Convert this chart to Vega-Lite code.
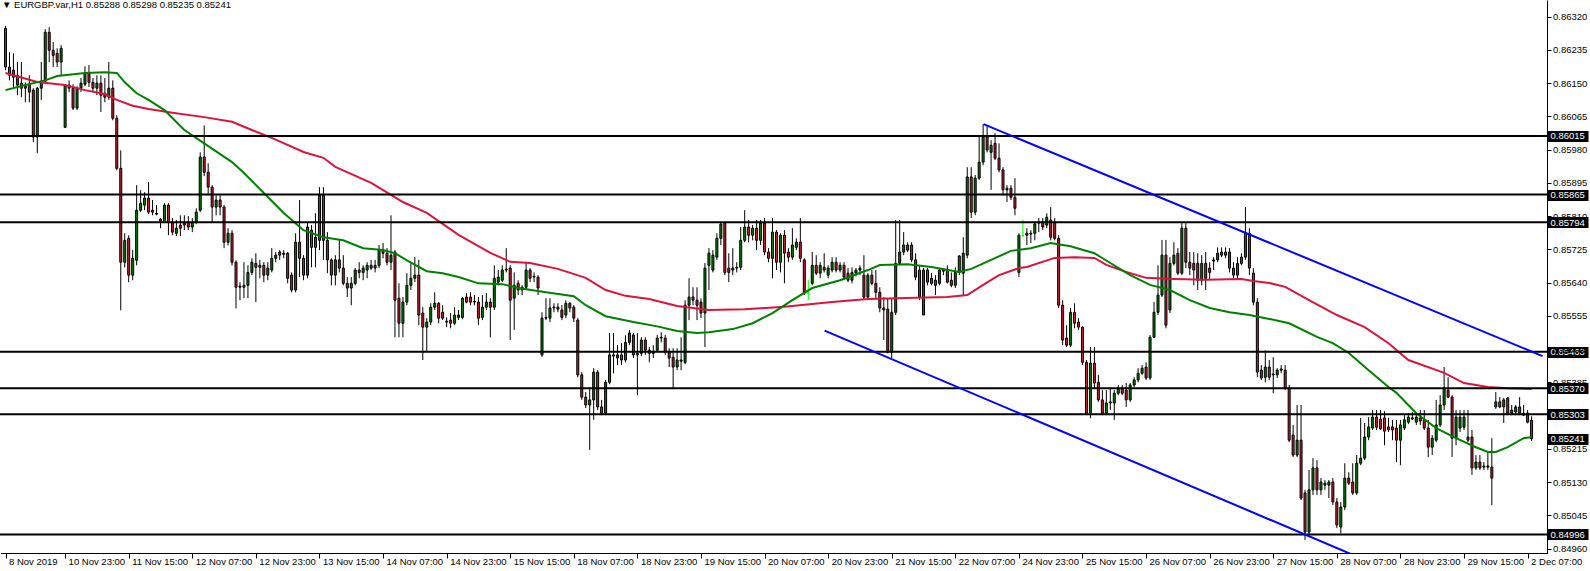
{
"$schema":"https://vega.github.io/schema/vega-lite/v6.json",
"width":1547,"height":553,
"autosize":{"type":"none"},
"padding":{"left":0,"top":0,"right":43,"bottom":18},
"background":"white",
"config":{"view":{"stroke":null},"font":"Liberation Sans"},
"title":{"text":"▼  EURGBP.var,H1  0.85288 0.85298 0.85235 0.85241","anchor":"start","frame":"group","orient":"top","offset":-12,"baseline":"bottom","font":"Liberation Sans","fontSize":9.5,"fontWeight":"normal","color":"black","dx":2,"dy":7},
"datasets":{
"candles":[
{"i":0,"o":0.86290,"h":0.86296,"l":0.86183,"c":0.86191},
{"i":1,"o":0.86191,"h":0.86229,"l":0.86157,"c":0.86170},
{"i":2,"o":0.86183,"h":0.86226,"l":0.86140,"c":0.86165},
{"i":3,"o":0.86170,"h":0.86204,"l":0.86119,"c":0.86145},
{"i":4,"o":0.86150,"h":0.86204,"l":0.86114,"c":0.86137},
{"i":5,"o":0.86142,"h":0.86152,"l":0.86101,"c":0.86137},
{"i":6,"o":0.86147,"h":0.86170,"l":0.86101,"c":0.86127},
{"i":7,"o":0.86132,"h":0.86137,"l":0.85999,"c":0.86012},
{"i":8,"o":0.86012,"h":0.86140,"l":0.85971,"c":0.86137},
{"i":9,"o":0.86137,"h":0.86204,"l":0.86107,"c":0.86155},
{"i":10,"o":0.86155,"h":0.86288,"l":0.86147,"c":0.86280},
{"i":11,"o":0.86280,"h":0.86293,"l":0.86204,"c":0.86234},
{"i":12,"o":0.86234,"h":0.86255,"l":0.86191,"c":0.86221},
{"i":13,"o":0.86226,"h":0.86239,"l":0.86191,"c":0.86204},
{"i":14,"o":0.86204,"h":0.86247,"l":0.86170,"c":0.86239},
{"i":15,"o":0.86037,"h":0.86147,"l":0.86035,"c":0.86145},
{"i":16,"o":0.86145,"h":0.86157,"l":0.86127,"c":0.86137},
{"i":17,"o":0.86137,"h":0.86147,"l":0.86081,"c":0.86086},
{"i":18,"o":0.86086,"h":0.86142,"l":0.86081,"c":0.86137},
{"i":19,"o":0.86137,"h":0.86163,"l":0.86127,"c":0.86150},
{"i":20,"o":0.86147,"h":0.86193,"l":0.86142,"c":0.86175},
{"i":21,"o":0.86175,"h":0.86196,"l":0.86140,"c":0.86152},
{"i":22,"o":0.86152,"h":0.86163,"l":0.86127,"c":0.86137},
{"i":23,"o":0.86137,"h":0.86170,"l":0.86119,"c":0.86150},
{"i":24,"o":0.86150,"h":0.86170,"l":0.86076,"c":0.86119},
{"i":25,"o":0.86124,"h":0.86163,"l":0.86101,"c":0.86114},
{"i":26,"o":0.86114,"h":0.86204,"l":0.86107,"c":0.86137},
{"i":27,"o":0.86137,"h":0.86157,"l":0.86055,"c":0.86060},
{"i":28,"o":0.86060,"h":0.86068,"l":0.85927,"c":0.85932},
{"i":29,"o":0.85932,"h":0.85978,"l":0.85569,"c":0.85692},
{"i":30,"o":0.85692,"h":0.85766,"l":0.85679,"c":0.85748},
{"i":31,"o":0.85753,"h":0.85761,"l":0.85641,"c":0.85659},
{"i":32,"o":0.85659,"h":0.85723,"l":0.85646,"c":0.85702},
{"i":33,"o":0.85697,"h":0.85889,"l":0.85684,"c":0.85825},
{"i":34,"o":0.85825,"h":0.85876,"l":0.85820,"c":0.85843},
{"i":35,"o":0.85838,"h":0.85871,"l":0.85825,"c":0.85856},
{"i":36,"o":0.85856,"h":0.85897,"l":0.85815,"c":0.85820},
{"i":37,"o":0.85825,"h":0.85851,"l":0.85812,"c":0.85820},
{"i":38,"o":0.85817,"h":0.85838,"l":0.85812,"c":0.85815},
{"i":39,"o":0.85802,"h":0.85805,"l":0.85779,"c":0.85797},
{"i":40,"o":0.85794,"h":0.85843,"l":0.85792,"c":0.85838},
{"i":41,"o":0.85838,"h":0.85843,"l":0.85761,"c":0.85794},
{"i":42,"o":0.85794,"h":0.85805,"l":0.85761,"c":0.85769},
{"i":43,"o":0.85766,"h":0.85800,"l":0.85759,"c":0.85779},
{"i":44,"o":0.85787,"h":0.85812,"l":0.85759,"c":0.85779},
{"i":45,"o":0.85792,"h":0.85812,"l":0.85774,"c":0.85787},
{"i":46,"o":0.85794,"h":0.85810,"l":0.85774,"c":0.85782},
{"i":47,"o":0.85782,"h":0.85805,"l":0.85769,"c":0.85794},
{"i":48,"o":0.85794,"h":0.85830,"l":0.85789,"c":0.85820},
{"i":49,"o":0.85825,"h":0.85973,"l":0.85820,"c":0.85961},
{"i":50,"o":0.85961,"h":0.86042,"l":0.85912,"c":0.85922},
{"i":51,"o":0.85922,"h":0.85945,"l":0.85863,"c":0.85884},
{"i":52,"o":0.85884,"h":0.85889,"l":0.85794,"c":0.85833},
{"i":53,"o":0.85833,"h":0.85863,"l":0.85812,"c":0.85851},
{"i":54,"o":0.85851,"h":0.85863,"l":0.85812,"c":0.85833},
{"i":55,"o":0.85833,"h":0.85838,"l":0.85728,"c":0.85743},
{"i":56,"o":0.85743,"h":0.85779,"l":0.85735,"c":0.85766},
{"i":57,"o":0.85766,"h":0.85774,"l":0.85684,"c":0.85692},
{"i":58,"o":0.85692,"h":0.85697,"l":0.85574,"c":0.85628},
{"i":59,"o":0.85631,"h":0.85641,"l":0.85595,"c":0.85628},
{"i":60,"o":0.85628,"h":0.85692,"l":0.85600,"c":0.85633},
{"i":61,"o":0.85633,"h":0.85684,"l":0.85600,"c":0.85666},
{"i":62,"o":0.85666,"h":0.85702,"l":0.85659,"c":0.85692},
{"i":63,"o":0.85689,"h":0.85715,"l":0.85590,"c":0.85679},
{"i":64,"o":0.85679,"h":0.85698,"l":0.85651,"c":0.85684},
{"i":65,"o":0.85684,"h":0.85692,"l":0.85641,"c":0.85659},
{"i":66,"o":0.85659,"h":0.85692,"l":0.85646,"c":0.85677},
{"i":67,"o":0.85672,"h":0.85728,"l":0.85666,"c":0.85702},
{"i":68,"o":0.85702,"h":0.85718,"l":0.85692,"c":0.85710},
{"i":69,"o":0.85718,"h":0.85723,"l":0.85698,"c":0.85710},
{"i":70,"o":0.85715,"h":0.85723,"l":0.85702,"c":0.85712},
{"i":71,"o":0.85715,"h":0.85718,"l":0.85638,"c":0.85651},
{"i":72,"o":0.85659,"h":0.85666,"l":0.85615,"c":0.85621},
{"i":73,"o":0.85621,"h":0.85766,"l":0.85615,"c":0.85743},
{"i":74,"o":0.85743,"h":0.85851,"l":0.85654,"c":0.85702},
{"i":75,"o":0.85702,"h":0.85710,"l":0.85646,"c":0.85659},
{"i":76,"o":0.85659,"h":0.85794,"l":0.85651,"c":0.85782},
{"i":77,"o":0.85774,"h":0.85787,"l":0.85679,"c":0.85730},
{"i":78,"o":0.85730,"h":0.85817,"l":0.85679,"c":0.85756},
{"i":79,"o":0.85748,"h":0.85884,"l":0.85723,"c":0.85863},
{"i":80,"o":0.85863,"h":0.85884,"l":0.85698,"c":0.85748},
{"i":81,"o":0.85748,"h":0.85769,"l":0.85664,"c":0.85698},
{"i":82,"o":0.85698,"h":0.85702,"l":0.85633,"c":0.85659},
{"i":83,"o":0.85659,"h":0.85710,"l":0.85633,"c":0.85698},
{"i":84,"o":0.85698,"h":0.85749,"l":0.85666,"c":0.85677},
{"i":85,"o":0.85677,"h":0.85710,"l":0.85633,"c":0.85638},
{"i":86,"o":0.85638,"h":0.85654,"l":0.85603,"c":0.85626},
{"i":87,"o":0.85626,"h":0.85654,"l":0.85582,"c":0.85638},
{"i":88,"o":0.85638,"h":0.85677,"l":0.85633,"c":0.85672},
{"i":89,"o":0.85672,"h":0.85692,"l":0.85651,"c":0.85666},
{"i":90,"o":0.85666,"h":0.85684,"l":0.85646,"c":0.85677},
{"i":91,"o":0.85672,"h":0.85692,"l":0.85651,"c":0.85684},
{"i":92,"o":0.85677,"h":0.85698,"l":0.85672,"c":0.85684},
{"i":93,"o":0.85684,"h":0.85698,"l":0.85666,"c":0.85677},
{"i":94,"o":0.85684,"h":0.85736,"l":0.85677,"c":0.85723},
{"i":95,"o":0.85723,"h":0.85741,"l":0.85702,"c":0.85715},
{"i":96,"o":0.85715,"h":0.85728,"l":0.85684,"c":0.85692},
{"i":97,"o":0.85692,"h":0.85812,"l":0.85672,"c":0.85710},
{"i":98,"o":0.85718,"h":0.85723,"l":0.85500,"c":0.85595},
{"i":99,"o":0.85600,"h":0.85638,"l":0.85500,"c":0.85536},
{"i":100,"o":0.85536,"h":0.85603,"l":0.85500,"c":0.85590},
{"i":101,"o":0.85590,"h":0.85664,"l":0.85582,"c":0.85633},
{"i":102,"o":0.85633,"h":0.85689,"l":0.85621,"c":0.85651},
{"i":103,"o":0.85651,"h":0.85705,"l":0.85641,"c":0.85659},
{"i":104,"o":0.85659,"h":0.85698,"l":0.85531,"c":0.85557},
{"i":105,"o":0.85562,"h":0.85577,"l":0.85442,"c":0.85526},
{"i":106,"o":0.85526,"h":0.85549,"l":0.85462,"c":0.85539},
{"i":107,"o":0.85539,"h":0.85587,"l":0.85531,"c":0.85577},
{"i":108,"o":0.85577,"h":0.85615,"l":0.85570,"c":0.85587},
{"i":109,"o":0.85587,"h":0.85590,"l":0.85536,"c":0.85549},
{"i":110,"o":0.85564,"h":0.85582,"l":0.85544,"c":0.85549},
{"i":111,"o":0.85539,"h":0.85551,"l":0.85526,"c":0.85541},
{"i":112,"o":0.85544,"h":0.85562,"l":0.85523,"c":0.85536},
{"i":113,"o":0.85536,"h":0.85577,"l":0.85531,"c":0.85557},
{"i":114,"o":0.85551,"h":0.85570,"l":0.85544,"c":0.85557},
{"i":115,"o":0.85551,"h":0.85603,"l":0.85546,"c":0.85600},
{"i":116,"o":0.85603,"h":0.85613,"l":0.85587,"c":0.85590},
{"i":117,"o":0.85603,"h":0.85615,"l":0.85582,"c":0.85590},
{"i":118,"o":0.85590,"h":0.85608,"l":0.85582,"c":0.85592},
{"i":119,"o":0.85590,"h":0.85603,"l":0.85531,"c":0.85549},
{"i":120,"o":0.85551,"h":0.85608,"l":0.85544,"c":0.85577},
{"i":121,"o":0.85577,"h":0.85613,"l":0.85570,"c":0.85590},
{"i":122,"o":0.85590,"h":0.85600,"l":0.85500,"c":0.85577},
{"i":123,"o":0.85577,"h":0.85684,"l":0.85570,"c":0.85651},
{"i":124,"o":0.85641,"h":0.85672,"l":0.85633,"c":0.85654},
{"i":125,"o":0.85646,"h":0.85684,"l":0.85641,"c":0.85672},
{"i":126,"o":0.85672,"h":0.85728,"l":0.85666,"c":0.85674},
{"i":127,"o":0.85677,"h":0.85684,"l":0.85493,"c":0.85595},
{"i":128,"o":0.85600,"h":0.85666,"l":0.85519,"c":0.85633},
{"i":129,"o":0.85638,"h":0.85646,"l":0.85608,"c":0.85621},
{"i":130,"o":0.85621,"h":0.85633,"l":0.85608,"c":0.85628},
{"i":131,"o":0.85628,"h":0.85692,"l":0.85621,"c":0.85672},
{"i":132,"o":0.85672,"h":0.85677,"l":0.85641,"c":0.85651},
{"i":133,"o":0.85654,"h":0.85666,"l":0.85641,"c":0.85656},
{"i":134,"o":0.85654,"h":0.85659,"l":0.85608,"c":0.85626},
{"i":135,"o":0.85455,"h":0.85564,"l":0.85450,"c":0.85549},
{"i":136,"o":0.85549,"h":0.85600,"l":0.85544,"c":0.85551},
{"i":137,"o":0.85549,"h":0.85600,"l":0.85539,"c":0.85575},
{"i":138,"o":0.85575,"h":0.85587,"l":0.85564,"c":0.85577},
{"i":139,"o":0.85572,"h":0.85587,"l":0.85564,"c":0.85577},
{"i":140,"o":0.85570,"h":0.85582,"l":0.85544,"c":0.85551},
{"i":141,"o":0.85557,"h":0.85595,"l":0.85549,"c":0.85587},
{"i":142,"o":0.85587,"h":0.85590,"l":0.85564,"c":0.85575},
{"i":143,"o":0.85577,"h":0.85582,"l":0.85539,"c":0.85549},
{"i":144,"o":0.85544,"h":0.85549,"l":0.85398,"c":0.85404},
{"i":145,"o":0.85404,"h":0.85411,"l":0.85340,"c":0.85347},
{"i":146,"o":0.85347,"h":0.85360,"l":0.85319,"c":0.85327},
{"i":147,"o":0.85327,"h":0.85373,"l":0.85212,"c":0.85340},
{"i":148,"o":0.85340,"h":0.85421,"l":0.85289,"c":0.85411},
{"i":149,"o":0.85411,"h":0.85416,"l":0.85314,"c":0.85322},
{"i":150,"o":0.85322,"h":0.85340,"l":0.85301,"c":0.85306},
{"i":151,"o":0.85306,"h":0.85391,"l":0.85301,"c":0.85385},
{"i":152,"o":0.85385,"h":0.85511,"l":0.85380,"c":0.85455},
{"i":153,"o":0.85455,"h":0.85511,"l":0.85408,"c":0.85452},
{"i":154,"o":0.85455,"h":0.85480,"l":0.85429,"c":0.85447},
{"i":155,"o":0.85455,"h":0.85485,"l":0.85429,"c":0.85442},
{"i":156,"o":0.85442,"h":0.85505,"l":0.85436,"c":0.85487},
{"i":157,"o":0.85487,"h":0.85519,"l":0.85480,"c":0.85511},
{"i":158,"o":0.85506,"h":0.85511,"l":0.85447,"c":0.85455},
{"i":159,"o":0.85459,"h":0.85511,"l":0.85352,"c":0.85455},
{"i":160,"o":0.85459,"h":0.85500,"l":0.85452,"c":0.85493},
{"i":161,"o":0.85493,"h":0.85500,"l":0.85455,"c":0.85467},
{"i":162,"o":0.85467,"h":0.85475,"l":0.85436,"c":0.85459},
{"i":163,"o":0.85459,"h":0.85480,"l":0.85447,"c":0.85462},
{"i":164,"o":0.85467,"h":0.85506,"l":0.85462,"c":0.85498},
{"i":165,"o":0.85498,"h":0.85513,"l":0.85487,"c":0.85500},
{"i":166,"o":0.85498,"h":0.85506,"l":0.85455,"c":0.85462},
{"i":167,"o":0.85462,"h":0.85472,"l":0.85424,"c":0.85447},
{"i":168,"o":0.85449,"h":0.85472,"l":0.85370,"c":0.85424},
{"i":169,"o":0.85424,"h":0.85472,"l":0.85416,"c":0.85442},
{"i":170,"o":0.85439,"h":0.85500,"l":0.85416,"c":0.85442},
{"i":171,"o":0.85436,"h":0.85595,"l":0.85431,"c":0.85582},
{"i":172,"o":0.85582,"h":0.85651,"l":0.85544,"c":0.85603},
{"i":173,"o":0.85603,"h":0.85628,"l":0.85582,"c":0.85595},
{"i":174,"o":0.85595,"h":0.85628,"l":0.85544,"c":0.85582},
{"i":175,"o":0.85590,"h":0.85600,"l":0.85549,"c":0.85562},
{"i":176,"o":0.85562,"h":0.85690,"l":0.85475,"c":0.85677},
{"i":177,"o":0.85684,"h":0.85728,"l":0.85621,"c":0.85715},
{"i":178,"o":0.85672,"h":0.85723,"l":0.85666,"c":0.85710},
{"i":179,"o":0.85705,"h":0.85766,"l":0.85698,"c":0.85753},
{"i":180,"o":0.85753,"h":0.85792,"l":0.85736,"c":0.85790},
{"i":181,"o":0.85792,"h":0.85794,"l":0.85659,"c":0.85666},
{"i":182,"o":0.85677,"h":0.85715,"l":0.85641,"c":0.85666},
{"i":183,"o":0.85672,"h":0.85728,"l":0.85659,"c":0.85677},
{"i":184,"o":0.85677,"h":0.85692,"l":0.85666,"c":0.85679},
{"i":185,"o":0.85679,"h":0.85782,"l":0.85672,"c":0.85748},
{"i":186,"o":0.85748,"h":0.85825,"l":0.85743,"c":0.85782},
{"i":187,"o":0.85782,"h":0.85800,"l":0.85743,"c":0.85761},
{"i":188,"o":0.85761,"h":0.85787,"l":0.85748,"c":0.85779},
{"i":189,"o":0.85779,"h":0.85800,"l":0.85723,"c":0.85748},
{"i":190,"o":0.85748,"h":0.85800,"l":0.85736,"c":0.85792},
{"i":191,"o":0.85792,"h":0.85805,"l":0.85710,"c":0.85718},
{"i":192,"o":0.85718,"h":0.85728,"l":0.85692,"c":0.85702},
{"i":193,"o":0.85702,"h":0.85805,"l":0.85651,"c":0.85769},
{"i":194,"o":0.85769,"h":0.85774,"l":0.85672,"c":0.85692},
{"i":195,"o":0.85692,"h":0.85766,"l":0.85666,"c":0.85761},
{"i":196,"o":0.85761,"h":0.85774,"l":0.85638,"c":0.85715},
{"i":197,"o":0.85718,"h":0.85728,"l":0.85692,"c":0.85705},
{"i":198,"o":0.85705,"h":0.85779,"l":0.85698,"c":0.85736},
{"i":199,"o":0.85730,"h":0.85753,"l":0.85723,"c":0.85743},
{"i":200,"o":0.85743,"h":0.85805,"l":0.85692,"c":0.85702},
{"i":201,"o":0.85698,"h":0.85702,"l":0.85608,"c":0.85613},
{"i":202,"o":0.85613,"h":0.85646,"l":0.85595,"c":0.85613},
{"i":203,"o":0.85638,"h":0.85718,"l":0.85633,"c":0.85684},
{"i":204,"o":0.85684,"h":0.85710,"l":0.85659,"c":0.85664},
{"i":205,"o":0.85664,"h":0.85692,"l":0.85651,"c":0.85684},
{"i":206,"o":0.85679,"h":0.85715,"l":0.85666,"c":0.85672},
{"i":207,"o":0.85659,"h":0.85684,"l":0.85651,"c":0.85677},
{"i":208,"o":0.85672,"h":0.85705,"l":0.85666,"c":0.85692},
{"i":209,"o":0.85692,"h":0.85705,"l":0.85666,"c":0.85672},
{"i":210,"o":0.85672,"h":0.85692,"l":0.85666,"c":0.85684},
{"i":211,"o":0.85684,"h":0.85692,"l":0.85646,"c":0.85654},
{"i":212,"o":0.85664,"h":0.85677,"l":0.85641,"c":0.85646},
{"i":213,"o":0.85646,"h":0.85679,"l":0.85638,"c":0.85666},
{"i":214,"o":0.85664,"h":0.85677,"l":0.85656,"c":0.85672},
{"i":215,"o":0.85672,"h":0.85684,"l":0.85659,"c":0.85677},
{"i":216,"o":0.85659,"h":0.85710,"l":0.85595,"c":0.85603},
{"i":217,"o":0.85603,"h":0.85664,"l":0.85595,"c":0.85659},
{"i":218,"o":0.85659,"h":0.85672,"l":0.85633,"c":0.85638},
{"i":219,"o":0.85638,"h":0.85672,"l":0.85600,"c":0.85615},
{"i":220,"o":0.85615,"h":0.85628,"l":0.85564,"c":0.85575},
{"i":221,"o":0.85575,"h":0.85603,"l":0.85493,"c":0.85570},
{"i":222,"o":0.85572,"h":0.85600,"l":0.85459,"c":0.85462},
{"i":223,"o":0.85462,"h":0.85600,"l":0.85447,"c":0.85564},
{"i":224,"o":0.85564,"h":0.85800,"l":0.85557,"c":0.85689},
{"i":225,"o":0.85689,"h":0.85800,"l":0.85684,"c":0.85718},
{"i":226,"o":0.85718,"h":0.85769,"l":0.85710,"c":0.85736},
{"i":227,"o":0.85736,"h":0.85743,"l":0.85718,"c":0.85723},
{"i":228,"o":0.85736,"h":0.85743,"l":0.85692,"c":0.85698},
{"i":229,"o":0.85698,"h":0.85715,"l":0.85646,"c":0.85654},
{"i":230,"o":0.85672,"h":0.85684,"l":0.85595,"c":0.85603},
{"i":231,"o":0.85557,"h":0.85677,"l":0.85557,"c":0.85672},
{"i":232,"o":0.85672,"h":0.85677,"l":0.85633,"c":0.85641},
{"i":233,"o":0.85651,"h":0.85664,"l":0.85633,"c":0.85638},
{"i":234,"o":0.85646,"h":0.85659,"l":0.85608,"c":0.85633},
{"i":235,"o":0.85638,"h":0.85677,"l":0.85633,"c":0.85672},
{"i":236,"o":0.85672,"h":0.85677,"l":0.85659,"c":0.85669},
{"i":237,"o":0.85672,"h":0.85684,"l":0.85638,"c":0.85641},
{"i":238,"o":0.85646,"h":0.85666,"l":0.85628,"c":0.85633},
{"i":239,"o":0.85633,"h":0.85679,"l":0.85626,"c":0.85666},
{"i":240,"o":0.85666,"h":0.85710,"l":0.85659,"c":0.85708},
{"i":241,"o":0.85664,"h":0.85756,"l":0.85608,"c":0.85715},
{"i":242,"o":0.85710,"h":0.85935,"l":0.85702,"c":0.85910},
{"i":243,"o":0.85910,"h":0.85935,"l":0.85805,"c":0.85820},
{"i":244,"o":0.85820,"h":0.85915,"l":0.85812,"c":0.85907},
{"i":245,"o":0.85907,"h":0.86012,"l":0.85902,"c":0.85948},
{"i":246,"o":0.85948,"h":0.86045,"l":0.85940,"c":0.86012},
{"i":247,"o":0.86012,"h":0.86042,"l":0.85973,"c":0.85979},
{"i":248,"o":0.85973,"h":0.86004,"l":0.85877,"c":0.85991},
{"i":249,"o":0.85996,"h":0.86022,"l":0.85953,"c":0.85958},
{"i":250,"o":0.85958,"h":0.85996,"l":0.85922,"c":0.85928},
{"i":251,"o":0.85928,"h":0.85935,"l":0.85863,"c":0.85877},
{"i":252,"o":0.85877,"h":0.85889,"l":0.85846,"c":0.85881},
{"i":253,"o":0.85881,"h":0.85889,"l":0.85851,"c":0.85858},
{"i":254,"o":0.85858,"h":0.85907,"l":0.85812,"c":0.85830},
{"i":255,"o":0.85666,"h":0.85766,"l":0.85654,"c":0.85761},
{"i":256,"o":0.85761,"h":0.85800,"l":0.85756,"c":0.85761},
{"i":257,"o":0.85761,"h":0.85779,"l":0.85736,"c":0.85766},
{"i":258,"o":0.85766,"h":0.85774,"l":0.85741,"c":0.85764},
{"i":259,"o":0.85766,"h":0.85792,"l":0.85748,"c":0.85790},
{"i":260,"o":0.85792,"h":0.85805,"l":0.85769,"c":0.85794},
{"i":261,"o":0.85794,"h":0.85805,"l":0.85774,"c":0.85782},
{"i":262,"o":0.85787,"h":0.85817,"l":0.85779,"c":0.85807},
{"i":263,"o":0.85800,"h":0.85833,"l":0.85748,"c":0.85756},
{"i":264,"o":0.85794,"h":0.85805,"l":0.85748,"c":0.85753},
{"i":265,"o":0.85753,"h":0.85761,"l":0.85575,"c":0.85582},
{"i":266,"o":0.85582,"h":0.85595,"l":0.85480,"c":0.85493},
{"i":267,"o":0.85498,"h":0.85531,"l":0.85475,"c":0.85480},
{"i":268,"o":0.85480,"h":0.85575,"l":0.85475,"c":0.85564},
{"i":269,"o":0.85564,"h":0.85587,"l":0.85523,"c":0.85536},
{"i":270,"o":0.85539,"h":0.85549,"l":0.85519,"c":0.85526},
{"i":271,"o":0.85526,"h":0.85528,"l":0.85429,"c":0.85436},
{"i":272,"o":0.85436,"h":0.85442,"l":0.85301,"c":0.85306},
{"i":273,"o":0.85306,"h":0.85475,"l":0.85293,"c":0.85434},
{"i":274,"o":0.85434,"h":0.85475,"l":0.85370,"c":0.85383},
{"i":275,"o":0.85385,"h":0.85404,"l":0.85335,"c":0.85340},
{"i":276,"o":0.85340,"h":0.85365,"l":0.85301,"c":0.85306},
{"i":277,"o":0.85306,"h":0.85365,"l":0.85301,"c":0.85332},
{"i":278,"o":0.85332,"h":0.85370,"l":0.85314,"c":0.85335},
{"i":279,"o":0.85332,"h":0.85365,"l":0.85289,"c":0.85357},
{"i":280,"o":0.85357,"h":0.85378,"l":0.85352,"c":0.85370},
{"i":281,"o":0.85370,"h":0.85378,"l":0.85352,"c":0.85357},
{"i":282,"o":0.85365,"h":0.85383,"l":0.85322,"c":0.85340},
{"i":283,"o":0.85340,"h":0.85383,"l":0.85335,"c":0.85378},
{"i":284,"o":0.85378,"h":0.85398,"l":0.85373,"c":0.85391},
{"i":285,"o":0.85391,"h":0.85421,"l":0.85385,"c":0.85408},
{"i":286,"o":0.85408,"h":0.85429,"l":0.85404,"c":0.85421},
{"i":287,"o":0.85424,"h":0.85436,"l":0.85391,"c":0.85396},
{"i":288,"o":0.85396,"h":0.85506,"l":0.85391,"c":0.85500},
{"i":289,"o":0.85500,"h":0.85590,"l":0.85498,"c":0.85564},
{"i":290,"o":0.85564,"h":0.85684,"l":0.85557,"c":0.85608},
{"i":291,"o":0.85608,"h":0.85749,"l":0.85603,"c":0.85710},
{"i":292,"o":0.85710,"h":0.85749,"l":0.85523,"c":0.85531},
{"i":293,"o":0.85570,"h":0.85705,"l":0.85562,"c":0.85689},
{"i":294,"o":0.85689,"h":0.85743,"l":0.85684,"c":0.85710},
{"i":295,"o":0.85715,"h":0.85728,"l":0.85659,"c":0.85664},
{"i":296,"o":0.85664,"h":0.85792,"l":0.85659,"c":0.85779},
{"i":297,"o":0.85779,"h":0.85792,"l":0.85677,"c":0.85692},
{"i":298,"o":0.85692,"h":0.85718,"l":0.85659,"c":0.85677},
{"i":299,"o":0.85689,"h":0.85718,"l":0.85633,"c":0.85672},
{"i":300,"o":0.85689,"h":0.85715,"l":0.85621,"c":0.85646},
{"i":301,"o":0.85646,"h":0.85710,"l":0.85633,"c":0.85689},
{"i":302,"o":0.85689,"h":0.85718,"l":0.85621,"c":0.85651},
{"i":303,"o":0.85677,"h":0.85692,"l":0.85646,"c":0.85666},
{"i":304,"o":0.85698,"h":0.85705,"l":0.85672,"c":0.85695},
{"i":305,"o":0.85698,"h":0.85730,"l":0.85692,"c":0.85715},
{"i":306,"o":0.85718,"h":0.85730,"l":0.85705,"c":0.85710},
{"i":307,"o":0.85710,"h":0.85730,"l":0.85702,"c":0.85718},
{"i":308,"o":0.85718,"h":0.85728,"l":0.85666,"c":0.85677},
{"i":309,"o":0.85677,"h":0.85692,"l":0.85651,"c":0.85659},
{"i":310,"o":0.85659,"h":0.85705,"l":0.85651,"c":0.85689},
{"i":311,"o":0.85689,"h":0.85715,"l":0.85684,"c":0.85705},
{"i":312,"o":0.85705,"h":0.85833,"l":0.85698,"c":0.85766},
{"i":313,"o":0.85766,"h":0.85779,"l":0.85659,"c":0.85677},
{"i":314,"o":0.85664,"h":0.85677,"l":0.85582,"c":0.85590},
{"i":315,"o":0.85590,"h":0.85600,"l":0.85398,"c":0.85411},
{"i":316,"o":0.85416,"h":0.85429,"l":0.85391,"c":0.85396},
{"i":317,"o":0.85398,"h":0.85467,"l":0.85385,"c":0.85424},
{"i":318,"o":0.85424,"h":0.85442,"l":0.85391,"c":0.85398},
{"i":319,"o":0.85406,"h":0.85449,"l":0.85357,"c":0.85404},
{"i":320,"o":0.85404,"h":0.85421,"l":0.85396,"c":0.85416},
{"i":321,"o":0.85416,"h":0.85429,"l":0.85408,"c":0.85419},
{"i":322,"o":0.85416,"h":0.85429,"l":0.85365,"c":0.85370},
{"i":323,"o":0.85370,"h":0.85378,"l":0.85232,"c":0.85237},
{"i":324,"o":0.85250,"h":0.85276,"l":0.85194,"c":0.85199},
{"i":325,"o":0.85199,"h":0.85327,"l":0.85194,"c":0.85237},
{"i":326,"o":0.85237,"h":0.85327,"l":0.85084,"c":0.85089},
{"i":327,"o":0.85102,"h":0.85110,"l":0.84982,"c":0.85002},
{"i":328,"o":0.85002,"h":0.85161,"l":0.84994,"c":0.85110},
{"i":329,"o":0.85110,"h":0.85191,"l":0.85097,"c":0.85166},
{"i":330,"o":0.85166,"h":0.85186,"l":0.85097,"c":0.85110},
{"i":331,"o":0.85110,"h":0.85140,"l":0.85097,"c":0.85130},
{"i":332,"o":0.85122,"h":0.85135,"l":0.85110,"c":0.85127},
{"i":333,"o":0.85122,"h":0.85135,"l":0.85089,"c":0.85130},
{"i":334,"o":0.85130,"h":0.85140,"l":0.85071,"c":0.85079},
{"i":335,"o":0.85079,"h":0.85089,"l":0.85012,"c":0.85020},
{"i":336,"o":0.85015,"h":0.85079,"l":0.84999,"c":0.85066},
{"i":337,"o":0.85066,"h":0.85178,"l":0.85058,"c":0.85140},
{"i":338,"o":0.85140,"h":0.85155,"l":0.85122,"c":0.85127},
{"i":339,"o":0.85130,"h":0.85178,"l":0.85097,"c":0.85102},
{"i":340,"o":0.85102,"h":0.85199,"l":0.85097,"c":0.85178},
{"i":341,"o":0.85178,"h":0.85294,"l":0.85173,"c":0.85191},
{"i":342,"o":0.85191,"h":0.85281,"l":0.85186,"c":0.85245},
{"i":343,"o":0.85245,"h":0.85296,"l":0.85237,"c":0.85271},
{"i":344,"o":0.85268,"h":0.85314,"l":0.85263,"c":0.85296},
{"i":345,"o":0.85296,"h":0.85314,"l":0.85263,"c":0.85270},
{"i":346,"o":0.85291,"h":0.85314,"l":0.85263,"c":0.85266},
{"i":347,"o":0.85294,"h":0.85311,"l":0.85224,"c":0.85260},
{"i":348,"o":0.85271,"h":0.85294,"l":0.85258,"c":0.85263},
{"i":349,"o":0.85271,"h":0.85289,"l":0.85237,"c":0.85263},
{"i":350,"o":0.85268,"h":0.85289,"l":0.85181,"c":0.85237},
{"i":351,"o":0.85237,"h":0.85289,"l":0.85173,"c":0.85276},
{"i":352,"o":0.85268,"h":0.85301,"l":0.85263,"c":0.85289},
{"i":353,"o":0.85283,"h":0.85306,"l":0.85278,"c":0.85296},
{"i":354,"o":0.85294,"h":0.85309,"l":0.85289,"c":0.85291},
{"i":355,"o":0.85283,"h":0.85301,"l":0.85276,"c":0.85296},
{"i":356,"o":0.85294,"h":0.85314,"l":0.85276,"c":0.85286},
{"i":357,"o":0.85289,"h":0.85314,"l":0.85263,"c":0.85268},
{"i":358,"o":0.85268,"h":0.85289,"l":0.85194,"c":0.85219},
{"i":359,"o":0.85219,"h":0.85250,"l":0.85199,"c":0.85242},
{"i":360,"o":0.85237,"h":0.85340,"l":0.85232,"c":0.85276},
{"i":361,"o":0.85276,"h":0.85352,"l":0.85271,"c":0.85327},
{"i":362,"o":0.85327,"h":0.85424,"l":0.85314,"c":0.85370},
{"i":363,"o":0.85365,"h":0.85398,"l":0.85345,"c":0.85347},
{"i":364,"o":0.85347,"h":0.85352,"l":0.85194,"c":0.85242},
{"i":365,"o":0.85242,"h":0.85314,"l":0.85224,"c":0.85296},
{"i":366,"o":0.85268,"h":0.85314,"l":0.85258,"c":0.85296},
{"i":367,"o":0.85270,"h":0.85314,"l":0.85263,"c":0.85296},
{"i":368,"o":0.85245,"h":0.85314,"l":0.85232,"c":0.85237},
{"i":369,"o":0.85245,"h":0.85263,"l":0.85148,"c":0.85166},
{"i":370,"o":0.85166,"h":0.85199,"l":0.85161,"c":0.85181},
{"i":371,"o":0.85181,"h":0.85199,"l":0.85161,"c":0.85166},
{"i":372,"o":0.85168,"h":0.85181,"l":0.85161,"c":0.85171},
{"i":373,"o":0.85168,"h":0.85204,"l":0.85161,"c":0.85171},
{"i":374,"o":0.85168,"h":0.85242,"l":0.85071,"c":0.85140},
{"i":375,"o":0.85322,"h":0.85360,"l":0.85317,"c":0.85335},
{"i":376,"o":0.85335,"h":0.85347,"l":0.85319,"c":0.85322},
{"i":377,"o":0.85322,"h":0.85345,"l":0.85281,"c":0.85340},
{"i":378,"o":0.85345,"h":0.85347,"l":0.85301,"c":0.85306},
{"i":379,"o":0.85314,"h":0.85327,"l":0.85301,"c":0.85306},
{"i":380,"o":0.85309,"h":0.85327,"l":0.85301,"c":0.85322},
{"i":381,"o":0.85306,"h":0.85347,"l":0.85301,"c":0.85322},
{"i":382,"o":0.85306,"h":0.85327,"l":0.85299,"c":0.85301},
{"i":383,"o":0.85306,"h":0.85314,"l":0.85280,"c":0.85283},
{"i":384,"o":0.85288,"h":0.85298,"l":0.85235,"c":0.85241}
],
"slow":[
{"i":0,"v":0.86176},{"i":8,"v":0.86153},{"i":15,"v":0.86145},{"i":20,"v":0.86132},{"i":25,"v":0.86122},{"i":28,"v":0.86107},{"i":32,"v":0.86092},{"i":36,"v":0.86084},{"i":42,"v":0.86074},{"i":50,"v":0.86063},{"i":57,"v":0.86051},{"i":62,"v":0.86030},{"i":67,"v":0.86010},{"i":75,"v":0.85974},{"i":80,"v":0.85959},{"i":83,"v":0.85936},{"i":92,"v":0.85895},{"i":97,"v":0.85864},{"i":100,"v":0.85846},{"i":106,"v":0.85818},{"i":114,"v":0.85762},{"i":122,"v":0.85716},{"i":127,"v":0.85693},{"i":132,"v":0.85690},{"i":139,"v":0.85675},{"i":146,"v":0.85652},{"i":151,"v":0.85621},{"i":156,"v":0.85606},{"i":162,"v":0.85598},{"i":169,"v":0.85580},{"i":177,"v":0.85570},{"i":186,"v":0.85572},{"i":196,"v":0.85578},{"i":208,"v":0.85590},{"i":217,"v":0.85598},{"i":229,"v":0.85601},{"i":237,"v":0.85603},{"i":242,"v":0.85608},{"i":246,"v":0.85634},{"i":250,"v":0.85659},{"i":255,"v":0.85677},{"i":257,"v":0.85680},{"i":264,"v":0.85703},{"i":269,"v":0.85705},{"i":274,"v":0.85703},{"i":277,"v":0.85685},{"i":282,"v":0.85667},{"i":287,"v":0.85652},{"i":294,"v":0.85649},{"i":302,"v":0.85647},{"i":311,"v":0.85649},{"i":314,"v":0.85644},{"i":318,"v":0.85639},{"i":322,"v":0.85629},{"i":328,"v":0.85595},{"i":335,"v":0.85557},{"i":342,"v":0.85526},{"i":348,"v":0.85485},{"i":353,"v":0.85442},{"i":362,"v":0.85409},{"i":367,"v":0.85383},{"i":373,"v":0.85373},{"i":378,"v":0.85370},{"i":384,"v":0.85368}
],
"fast":[
{"i":0,"v":0.86132},{"i":5,"v":0.86145},{"i":10,"v":0.86157},{"i":13,"v":0.86168},{"i":20,"v":0.86176},{"i":25,"v":0.86178},{"i":28,"v":0.86176},{"i":30,"v":0.86152},{"i":33,"v":0.86124},{"i":36,"v":0.86107},{"i":40,"v":0.86081},{"i":45,"v":0.86030},{"i":50,"v":0.85996},{"i":57,"v":0.85948},{"i":60,"v":0.85920},{"i":65,"v":0.85869},{"i":70,"v":0.85818},{"i":75,"v":0.85774},{"i":80,"v":0.85756},{"i":85,"v":0.85748},{"i":90,"v":0.85728},{"i":95,"v":0.85723},{"i":98,"v":0.85715},{"i":101,"v":0.85697},{"i":106,"v":0.85669},{"i":110,"v":0.85664},{"i":114,"v":0.85654},{"i":119,"v":0.85638},{"i":125,"v":0.85636},{"i":129,"v":0.85626},{"i":136,"v":0.85615},{"i":143,"v":0.85605},{"i":146,"v":0.85582},{"i":151,"v":0.85554},{"i":158,"v":0.85539},{"i":164,"v":0.85528},{"i":169,"v":0.85516},{"i":174,"v":0.85511},{"i":177,"v":0.85513},{"i":183,"v":0.85521},{"i":188,"v":0.85536},{"i":193,"v":0.85562},{"i":198,"v":0.85595},{"i":203,"v":0.85626},{"i":210,"v":0.85646},{"i":217,"v":0.85672},{"i":220,"v":0.85685},{"i":227,"v":0.85687},{"i":233,"v":0.85680},{"i":240,"v":0.85667},{"i":243,"v":0.85675},{"i":248,"v":0.85698},{"i":253,"v":0.85721},{"i":258,"v":0.85728},{"i":263,"v":0.85741},{"i":268,"v":0.85733},{"i":274,"v":0.85715},{"i":278,"v":0.85690},{"i":283,"v":0.85659},{"i":288,"v":0.85634},{"i":293,"v":0.85621},{"i":298,"v":0.85595},{"i":303,"v":0.85575},{"i":308,"v":0.85564},{"i":313,"v":0.85557},{"i":318,"v":0.85547},{"i":323,"v":0.85536},{"i":330,"v":0.85501},{"i":334,"v":0.85485},{"i":338,"v":0.85460},{"i":343,"v":0.85416},{"i":348,"v":0.85373},{"i":350,"v":0.85358},{"i":355,"v":0.85306},{"i":360,"v":0.85268},{"i":365,"v":0.85242},{"i":370,"v":0.85219},{"i":373,"v":0.85207},{"i":375,"v":0.85207},{"i":378,"v":0.85219},{"i":382,"v":0.85242},{"i":384,"v":0.85245}
],
"levels":[{"p":0.86015},{"p":0.85865},{"p":0.85794},{"p":0.85463},{"p":0.8537},{"p":0.85303},{"p":0.84996}],
"trend":[{"i":246.1,"p":0.86045,"g":"a"},{"i":386.75,"p":0.85452,"g":"a"},{"i":206.1,"p":0.85517,"g":"b"},{"i":345,"p":0.84918,"g":"b"}]
},
"layer":[
{"data":{"name":"candles"},
 "mark":{"type":"rule","strokeWidth":1,"clip":true},
 "encoding":{
  "x":{"field":"i","type":"quantitative","title":null,
   "scale":{"domain":[0,386.75],"range":[0.5,1547.5],"nice":false,"zero":false},
   "axis":{"orient":"bottom","title":null,"grid":false,"tickCount":1000,"values":[0,15,31,47,63,79,95,111,127,143,159,175,191,207,223,239,255,271,287,303,319,335,351,367,383],
    "labelExpr":"datum.value == 0 ? '8 Nov 2019' : ['10 Nov 23:00','11 Nov 15:00','12 Nov 07:00','12 Nov 23:00','13 Nov 15:00','14 Nov 07:00','14 Nov 23:00','15 Nov 15:00','18 Nov 07:00','18 Nov 23:00','19 Nov 15:00','20 Nov 07:00','20 Nov 23:00','21 Nov 15:00','22 Nov 07:00','24 Nov 23:00','25 Nov 15:00','26 Nov 07:00','26 Nov 23:00','27 Nov 15:00','28 Nov 07:00','28 Nov 23:00','29 Nov 15:00','2 Dec 07:00'][(datum.value-15)/16]",
    "domainColor":"black","domainWidth":1,"tickColor":"black","tickWidth":1,"tickSize":5,
    "labelAlign":"left","labelBaseline":"top","labelPadding":-2,"labelOffset":3,
    "labelFont":"Liberation Sans","labelFontSize":9.5,"labelColor":"black","labelOverlap":false,"labelFlush":false,"labelBound":false}},
  "y":{"field":"l","type":"quantitative","title":null,
   "scale":{"domain":[0.849485,0.863625],"nice":false,"zero":false},
   "axis":{"orient":"right","title":null,"grid":false,"tickCount":1000,
    "values":[0.8496,0.85045,0.8513,0.85215,0.853,0.85385,0.8547,0.85555,0.8564,0.85725,0.8581,0.85895,0.8598,0.86065,0.8615,0.86235,0.8632,0.86015,0.85865,0.85794,0.85463,0.8537,0.85303,0.84996,0.85241],
    "format":".5f","domainColor":"black","domainWidth":1,"tickColor":"black","tickSize":41,
    "tickWidth":{"condition":{"test":"indexof([0.86015,0.85865,0.85794,0.85463,0.8537,0.85303,0.84996,0.85241], datum.value) >= 0","value":11},"value":1},
    "tickDash":{"condition":{"test":"indexof([0.86015,0.85865,0.85794,0.85463,0.8537,0.85303,0.84996,0.85241], datum.value) >= 0","value":[]},"value":[4,100]},
    "labelColor":{"condition":{"test":"indexof([0.86015,0.85865,0.85794,0.85463,0.8537,0.85303,0.84996,0.85241], datum.value) >= 0","value":"white"},"value":"black"},
    "labelPadding":{"condition":{"test":"indexof([0.86015,0.85865,0.85794,0.85463,0.8537,0.85303,0.84996,0.85241], datum.value) >= 0","value":-38},"value":-35.5},
    "labelAlign":"left","labelBaseline":"middle","labelFont":"Liberation Sans","labelFontSize":9.5,"labelOverlap":false,"labelFlush":false,"labelBound":false}},
  "y2":{"field":"h"},
  "color":{"condition":{"test":"datum.o == datum.c","value":"#00FF00"},"value":"black"}
 }},
{"data":{"name":"candles"},
 "mark":{"type":"bar","width":2,"strokeWidth":1,"clip":true},
 "encoding":{
  "x":{"field":"i","type":"quantitative","title":null},
  "y":{"field":"o","type":"quantitative","title":null},
  "y2":{"field":"c"},
  "fill":{"condition":[{"test":"datum.c > datum.o","value":"#008000"},{"test":"datum.c < datum.o","value":"#C81E32"}],"value":"#00FF00"},
  "stroke":{"condition":{"test":"datum.o == datum.c","value":"#00FF00"},"value":"black"}
 }},
{"data":{"name":"slow"},
 "mark":{"type":"line","color":"#DC143C","strokeWidth":2,"clip":true},
 "encoding":{"x":{"field":"i","type":"quantitative","title":null},"y":{"field":"v","type":"quantitative","title":null}}},
{"data":{"name":"fast"},
 "mark":{"type":"line","color":"#008000","strokeWidth":2,"clip":true},
 "encoding":{"x":{"field":"i","type":"quantitative","title":null},"y":{"field":"v","type":"quantitative","title":null}}},
{"data":{"name":"levels"},
 "mark":{"type":"rule","color":"black","strokeWidth":2},
 "encoding":{"y":{"field":"p","type":"quantitative","title":null}}},
{"data":{"name":"trend"},
 "mark":{"type":"line","color":"#0000FF","strokeWidth":2,"clip":true},
 "encoding":{"x":{"field":"i","type":"quantitative","title":null},"y":{"field":"p","type":"quantitative","title":null},"detail":{"field":"g"}}}
]
}
